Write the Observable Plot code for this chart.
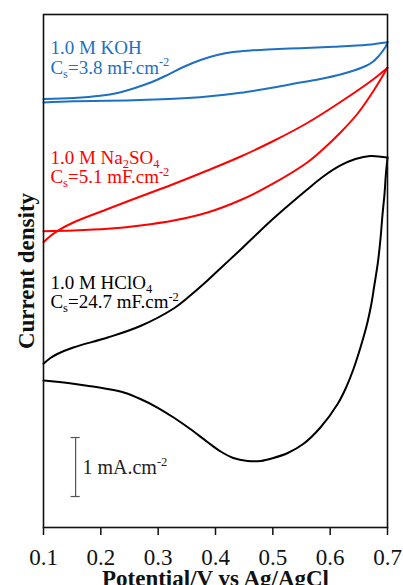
<!DOCTYPE html>
<html><head><meta charset="utf-8">
<script src="https://cdn.jsdelivr.net/npm/d3@7"></script>
<script src="https://cdn.jsdelivr.net/npm/@observablehq/plot@0.6"></script>
<style>html,body{margin:0;padding:0;background:#fff} svg{display:block}</style>
</head><body><div id="chart"></div>
<script>
// x tick labels (Potential / V vs Ag/AgCl)
const xTicks = [0.1, 0.2, 0.3, 0.4, 0.5, 0.6, 0.7];

// 1.0 M KOH (current density, mA/cm², offset)
const kohFwdV = [0.100,0.152,0.199,0.229,0.257,0.287,0.316,0.344,0.374,0.403,0.431,0.461,0.491,0.548,0.606,0.665,0.700];
const kohFwdJ = [7.263,7.280,7.317,7.364,7.441,7.542,7.669,7.805,7.924,8.008,8.059,8.085,8.102,8.124,8.147,8.181,8.225];
const kohRevV = [0.700,0.697,0.691,0.684,0.674,0.662,0.644,0.618,0.583,0.548,0.501,0.444,0.386,0.327,0.269,0.212,0.152,0.100];
const kohRevJ = [8.225,8.153,8.068,7.983,7.890,7.822,7.754,7.678,7.602,7.542,7.458,7.368,7.305,7.266,7.246,7.232,7.225,7.203];

// 1.0 M Na2SO4
const naFwdV = [0.100,0.152,0.212,0.269,0.327,0.386,0.444,0.501,0.560,0.588,0.618,0.648,0.676,0.700];
const naFwdJ = [5.022,5.034,5.063,5.119,5.203,5.339,5.551,5.831,6.186,6.415,6.695,7.017,7.407,7.792];
const naRevV = [0.700,0.676,0.618,0.560,0.501,0.444,0.386,0.327,0.269,0.212,0.152,0.124,0.112,0.100];
const naRevJ = [7.792,7.602,7.212,6.856,6.551,6.288,6.051,5.822,5.610,5.398,5.169,5.025,4.941,4.836];

// 1.0 M HClO4
const hFwdV = [0.100,0.112,0.124,0.152,0.212,0.269,0.327,0.356,0.386,0.414,0.444,0.473,0.501,0.531,0.560,0.588,0.618,0.644,0.670,0.700];
const hFwdJ = [2.775,2.873,2.941,3.051,3.220,3.415,3.712,3.932,4.186,4.441,4.712,4.983,5.237,5.492,5.729,5.949,6.136,6.246,6.297,6.271];
const hRevV = [0.700,0.697,0.695,0.691,0.688,0.683,0.677,0.672,0.665,0.658,0.641,0.627,0.613,0.583,0.553,0.526,0.501,0.479,0.456,0.431,0.409,0.386,0.356,0.327,0.297,0.269,0.240,0.212,0.182,0.152,0.123,0.100];
const hRevJ = [6.271,5.966,5.678,5.271,4.915,4.475,4.102,3.797,3.475,3.220,2.695,2.356,2.093,1.695,1.415,1.263,1.178,1.127,1.127,1.178,1.288,1.449,1.669,1.864,2.042,2.178,2.288,2.347,2.395,2.436,2.469,2.492];

// annotations
const labelTexts = ["1.0 M KOH", "C_s=3.8 mF.cm^-2", "1.0 M Na_2SO_4", "C_s=5.1 mF.cm^-2", "1.0 M HClO_4", "C_s=24.7 mF.cm^-2"];
const labelV = [0.112, 0.112, 0.112, 0.112, 0.112, 0.112];
const labelJ = [8.029, 7.690, 6.164, 5.836, 4.046, 3.717];
const labelSeries = ["KOH", "KOH", "Na2SO4", "Na2SO4", "HClO4", "HClO4"];

// scale bar: 1 mA/cm²
const scaleBarV = 0.156;
const scaleBarJ = [0.525, 1.525];
const scaleBarText = "1 mA.cm^-2";
const scaleTextV = 0.168;
const scaleTextJ = 0.910;

const colors = {KOH: "#1e70c0", Na2SO4: "#ff0000", HClO4: "#000000"};

function branch(V, J, key) { return V.map((v, i) => ({V: v, j: J[i], key})); }
const koh = [...branch(kohFwdV, kohFwdJ, "f"), ...branch(kohRevV, kohRevJ, "r")];
const na = [...branch(naFwdV, naFwdJ, "f"), ...branch(naRevV, naRevJ, "r")];
const hc = [...branch(hFwdV, hFwdJ, "f"), ...branch(hRevV, hRevJ, "r")];
const labels = labelTexts.map((t, i) => ({t, V: labelV[i], j: labelJ[i], s: labelSeries[i]}));

const chart = Plot.plot({
  width: 403, height: 585,
  marginTop: 14, marginBottom: 58, marginLeft: 43, marginRight: 16,
  style: {fontFamily: "'Liberation Serif','Times New Roman',serif", background: "#fff", color: "#000", overflow: "visible"},
  x: {domain: [0.1, 0.7], axis: null},
  y: {domain: [0, 8.695], axis: null},
  marks: [
    Plot.line(koh, {x: "V", y: "j", z: "key", stroke: colors.KOH, strokeWidth: 2, curve: "catmull-rom"}),
    Plot.line(na, {x: "V", y: "j", z: "key", stroke: colors.Na2SO4, strokeWidth: 2, curve: "catmull-rom"}),
    Plot.line(hc, {x: "V", y: "j", z: "key", stroke: colors.HClO4, strokeWidth: 2, curve: "catmull-rom"}),
    Plot.text(labels, {x: "V", y: "j", text: "t", fill: d => colors[d.s], textAnchor: "start", lineAnchor: "bottom", fontSize: 19}),
    Plot.ruleX([scaleBarV], {x: d => d, y1: scaleBarJ[0], y2: scaleBarJ[1], stroke: "#555", strokeWidth: 1.2}),
    Plot.ruleY(scaleBarJ, {y: d => d, x1: scaleBarV - 0.008, x2: scaleBarV + 0.008, stroke: "#555", strokeWidth: 1.2}),
    Plot.text([scaleBarText], {x: scaleTextV, y: scaleTextJ, text: d => d, textAnchor: "start", lineAnchor: "bottom", fontSize: 20, fill: "#222"}),
    Plot.frame({stroke: "#111", strokeWidth: 1.6}),
    Plot.axisX({ticks: xTicks, tickSize: 8, tickPadding: 13, tickFormat: d => d.toFixed(1), fontSize: 23, label: null, stroke: "#111", strokeWidth: 1.5, fill: "#111"}),
    Plot.text(["Potential/V vs Ag/AgCl"], {frameAnchor: "bottom", lineAnchor: "bottom", dy: 58, fontSize: 23, fontWeight: "bold", fill: "#111"}),
    Plot.text(["Current density"], {frameAnchor: "left", textAnchor: "middle", rotate: -90, dx: -17, fontSize: 23, fontWeight: "bold", fill: "#111"})
  ]
});

// render sub/superscripts as tspans
const NS = "http://www.w3.org/2000/svg";
d3.select(chart).selectAll("text").each(function () {
  const s = this.textContent;
  if (!/[_^]/.test(s)) return;
  const fs = parseFloat(getComputedStyle(this).fontSize) || 19;
  const parts = [...s.matchAll(/_(.)|\^(-?\d+)|([^_^]+)/g)];
  this.textContent = "";
  let shift = 0;
  for (const m of parts) {
    const t = document.createElementNS(NS, "tspan");
    let target = 0, str, small = false;
    if (m[1] !== undefined) { target = fs * 0.2; str = m[1]; small = true; }
    else if (m[2] !== undefined) { target = -fs * 0.40; str = m[2]; small = true; }
    else { str = m[3]; }
    const d = target - shift;
    if (d) t.setAttribute("dy", d.toFixed(2));
    shift = target;
    if (small) t.setAttribute("font-size", (fs * 0.66).toFixed(1));
    t.textContent = str;
    this.appendChild(t);
  }
});

document.getElementById("chart").appendChild(chart);
</script>
</body></html>
